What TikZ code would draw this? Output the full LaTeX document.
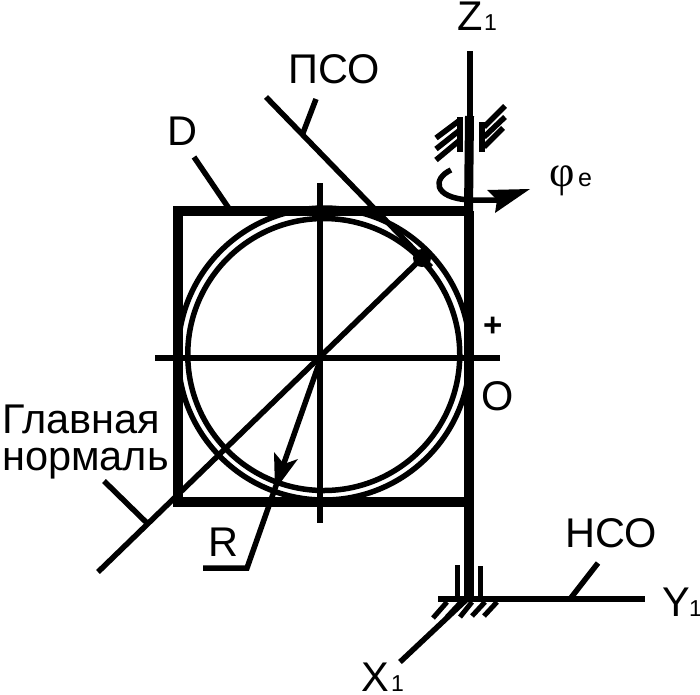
\documentclass[tikz,border=0pt]{standalone}
\usepackage{fontspec}
\setmainfont{Liberation Sans}
\newfontfamily\phifont{Liberation Serif}
\newcommand{\bigt}{\fontsize{41.5}{41.5}\selectfont}
\newcommand{\subt}{\fontsize{23}{23}\selectfont}
\tikzset{
  lbl/.style={inner sep=0pt,anchor=base west,font=\bigt},
  subl/.style={inner sep=0pt,anchor=base west,font=\subt},
  thin line/.style={line width=5.5pt},
  med line/.style={line width=5.5pt},
  thick line/.style={line width=10pt}
}
\begin{document}
\begin{tikzpicture}[x=1pt,y=-1pt]
\useasboundingbox (0,0) rectangle (700,694);
% coordinates
\coordinate (sqTL) at (177.5,211);
\coordinate (sqTR) at (468.5,211);
\coordinate (sqBR) at (468.5,502);
\coordinate (sqBL) at (177.5,502);
\coordinate (c) at (321,358);
\coordinate (ztop) at (470,51);
\coordinate (zmid) at (470,116);
\coordinate (zbase) at (469,600);
\coordinate (yl) at (438,599);
\coordinate (yr) at (645,599);
\coordinate (xend) at (400,662);
\coordinate (xstart) at (466,600);
% square
\draw[thick line,miter limit=10] (sqTR) -- (sqTL) -- (sqBL) -- (sqBR);
\draw[thick line] (sqTR) -- (sqBR);
% circles
\draw[med line] (324,354) circle[radius=146];
\draw[med line] (323.75,354.5) circle[radius=136];
% crosshair
\coordinate (vt) at (320,183); \coordinate (vb) at (320,523);
\coordinate (hl) at (155,358); \coordinate (hr) at (500,358);
\draw[thin line] (vt) -- (vb);
\draw[thin line] (hl) -- (hr);
% diagonal and dot
\coordinate (dg) at (98,572);
\node[circle,fill=black,minimum size=18pt,inner sep=0pt] (dot) at (422,258) {};
\draw[med line] (dg) -- (dot.center);
% PSO line
\coordinate (pa) at (266,97); \coordinate (pb) at (431,267);
\draw[med line] (pa) -- (pb);
\coordinate (pl1) at (316,99); \coordinate (pl2) at (303,133);
\draw[med line] (pl1) -- (pl2);
% D leader
\coordinate (d1) at (194,157); \coordinate (d2) at (230,210);
\draw[med line] (d1) -- (d2);
% normal leader
\coordinate (n1) at (104,481); \coordinate (n2) at (149,525);
\draw[med line] (n1) -- (n2);
% R arrow
\coordinate (r1) at (247,568); \coordinate (r0) at (203,568);
\draw[med line] (c) -- (r1) -- (r0);
\fill (275,490) -- (274,452) -- (284,464) -- (298,459) -- cycle;
% Z axis
\draw[line width=5.5pt] (ztop) -- (zmid);
\draw[line width=9pt] (469.5,116) -- (sqTR);
\draw[line width=10pt] (469,497) -- (zbase);
% upper bearing
\coordinate (ub1) at (460,117); \coordinate (ub2) at (460,152);
\coordinate (ub3) at (482,122); \coordinate (ub4) at (482,152);
\draw[line width=5.5pt] (ub1) -- (ub2);
\draw[line width=5.5pt] (ub3) -- (ub4);
\draw[line width=5.5pt] (460,120) -- (436,138) (460,130) -- (436,149) (460,140) -- (436,160);
\draw[line width=5.5pt] (484,127) -- (505,106) (484,137) -- (505,117) (484,147) -- (503,128);
% rotation arrow
\draw[line width=5.5pt] (451,170) .. controls (433,178) and (432,198) .. (470,200) -- (498,200);
\fill (530,189) -- (487,190) -- (497,200) -- (495,213) -- cycle;
% lower bearing
\draw[line width=5pt] (457,565) -- (457,600);
\draw[line width=5pt] (480,566) -- (480,600);
\draw[line width=5.5pt] (yl) -- (yr);
\draw[line width=5.5pt] (xend) -- (xstart);
\draw[line width=5pt] (447,602) -- (433,618) (461,602) -- (447,617) (472,602) -- (460,617) (485,602) -- (472,616) (497,602) -- (484,616);
% HCO leader
\coordinate (h1) at (598,563); \coordinate (h2) at (570,599);
\draw[med line] (h1) -- (h2);
% labels
\node[lbl] (lz) at (457,30) {Z};
\node[subl] (lz1) at (484,30) {1};
\node[lbl] (lpso) at (288,83) {ПСО};
\node[lbl] (ld) at (167,145) {D};
\node[inner sep=0pt,anchor=base west,font=\phifont\fontsize{44}{44}\selectfont] (lphi) at (549,186) {φ};
\node[subl,font=\fontsize{25}{25}\selectfont] (le) at (578,186) {e};
\node[lbl,font=\fontsize{33}{33}\selectfont\bfseries] (lplus) at (483,336) {+};
\node[lbl] (lo) at (481,410) {O};
\node[lbl] (lg) at (2,433) {Главная};
\node[lbl] (ln) at (2,470) {нормаль};
\node[lbl] (lr) at (208,556) {R};
\node[lbl] (lh) at (565,547) {НСО};
\node[lbl] (ly) at (662,616) {Y};
\node[subl] (ly1) at (689,616) {1};
\node[lbl] (lx) at (361,691) {X};
\node[subl] (lx1) at (391,691) {1};
\end{tikzpicture}
\end{document}
